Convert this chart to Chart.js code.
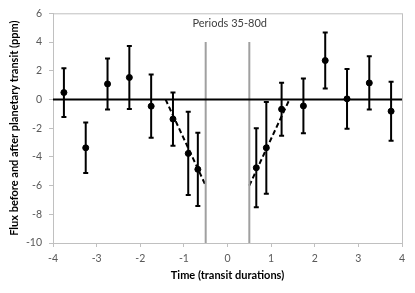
<!DOCTYPE html>
<html>
<head>
<meta charset="utf-8">
<script src="https://cdn.jsdelivr.net/npm/chart.js@4"></script>
<style>
  html, body { margin: 0; padding: 0; background: #fff; }
  #wrap { width: 415px; height: 293px; }
</style>
</head>
<body>
<div id="wrap"><canvas id="chart" width="415" height="293"></canvas></div>
<script>
/* ---------- Dados ---------- */
const xVals = [-3.75, -3.25, -2.75, -2.25, -1.75, -1.25, -0.9, -0.68, 0.66, 0.89, 1.24, 1.74, 2.24, 2.74, 3.25, 3.75];
const fluxVals = [0.48, -3.37, 1.08, 1.53, -0.47, -1.37, -3.76, -4.87, -4.76, -3.37, -0.68, -0.45, 2.71, 0.04, 1.15, -0.82];
const errVals = [1.7, 1.76, 1.78, 2.2, 2.2, 1.85, 2.9, 2.55, 2.75, 3.2, 1.85, 1.9, 1.95, 2.08, 1.85, 2.05];

const ingressX = [-1.42, -0.5];
const ingressY = [0, -6];
const egressX = [0.5, 1.42];
const egressY = [-6, 0];

const transitEdges = [-0.5, 0.5];
const edgeTop = 4;

const xTicks = [-4, -3, -2, -1, 0, 1, 2, 3, 4];
const yTicks = [-10, -8, -6, -4, -2, 0, 2, 4, 6];

const chartTitle = 'Periods 35-80d';
const xTitle = 'Time (transit durations)';
const yTitle = 'Flux before and after planetary transit (ppm)';

const FONT = 'Lato';

function pts(xs, ys) {
    return xs.map((x, i) => ({ x: x, y: ys[i] }));
}

/* ---------- Plugins ---------- */
// barras de erro (usando as escalas do próprio chart)
const errorBars = {
    id: 'errorBars',
    afterDatasetsDraw(chart) {
        const ctx = chart.ctx;
        const xs = chart.scales.x, ys = chart.scales.y;
        ctx.save();
        ctx.strokeStyle = '#000';
        ctx.lineWidth = 2;
        xVals.forEach((x, i) => {
            const px = xs.getPixelForValue(x);
            const top = ys.getPixelForValue(fluxVals[i] + errVals[i]);
            const bot = ys.getPixelForValue(fluxVals[i] - errVals[i]);
            ctx.beginPath();
            ctx.moveTo(px, top); ctx.lineTo(px, bot);
            ctx.moveTo(px - 2.5, top); ctx.lineTo(px + 2.5, top);
            ctx.moveTo(px - 2.5, bot); ctx.lineTo(px + 2.5, bot);
            ctx.stroke();
        });
        ctx.restore();
    }
};

// moldura da área do gráfico + título interno
const frame = {
    id: 'frame',
    beforeDatasetsDraw(chart) {
        const { ctx, chartArea: a } = chart;
        ctx.save();
        ctx.strokeStyle = '#c0c0c0';
        ctx.lineWidth = 1;
        ctx.strokeRect(a.left + 0.5, a.top + 0.5, a.right - a.left, a.bottom - a.top);
        ctx.restore();
    },
    afterDraw(chart) {
        const { ctx, chartArea: a } = chart;
        ctx.save();
        ctx.fillStyle = '#404040';
        ctx.font = '11px ' + FONT;
        ctx.textAlign = 'center';
        ctx.textBaseline = 'middle';
        ctx.fillText(chartTitle, chart.scales.x.getPixelForValue(0.05), a.top + 10);
        ctx.restore();
    }
};

/* ---------- Chart ---------- */
const ctx = document.getElementById('chart').getContext('2d');
new Chart(ctx, {
    type: 'scatter',
    data: {
        datasets: [
            {
                label: 'zero', type: 'line', data: pts([-4, 4], [0, 0]),
                borderColor: '#000', borderWidth: 2, pointRadius: 0
            },
            {
                label: 'edgeL', type: 'line', data: pts([transitEdges[0], transitEdges[0]], [-10, edgeTop]),
                borderColor: '#a0a0a0', borderWidth: 2, pointRadius: 0
            },
            {
                label: 'edgeR', type: 'line', data: pts([transitEdges[1], transitEdges[1]], [-10, edgeTop]),
                borderColor: '#a0a0a0', borderWidth: 2, pointRadius: 0
            },
            {
                label: 'ingress', type: 'line', data: pts(ingressX, ingressY),
                borderColor: '#000', borderWidth: 2, borderDash: [5, 3], pointRadius: 0
            },
            {
                label: 'egress', type: 'line', data: pts(egressX, egressY),
                borderColor: '#000', borderWidth: 2, borderDash: [5, 3], pointRadius: 0
            },
            {
                label: 'flux', data: pts(xVals, fluxVals),
                backgroundColor: '#000', borderColor: '#000', pointRadius: 3, pointHoverRadius: 3
            }
        ]
    },
    options: {
        responsive: false,
        animation: false,
        events: [],
        layout: { padding: { top: 13, right: 13, left: 0, bottom: 0 } },
        plugins: { legend: { display: false }, tooltip: { enabled: false } },
        scales: {
            x: {
                type: 'linear', min: -4, max: 4,
                afterBuildTicks: s => { s.ticks = xTicks.map(v => ({ value: v })); },
                afterFit: s => { s.height = 50; },
                border: { color: '#c0c0c0', width: 1 },
                grid: { drawOnChartArea: false, color: '#c0c0c0', tickLength: 4 },
                ticks: { color: '#595959', font: { family: FONT, size: 10.5 }, padding: 5, maxRotation: 0 },
                title: {
                    display: true, text: xTitle, color: '#000',
                    font: { family: FONT, size: 11, weight: 'bold' },
                    padding: { top: 0, bottom: 11 }
                }
            },
            y: {
                type: 'linear', min: -10, max: 6,
                afterBuildTicks: s => { s.ticks = yTicks.map(v => ({ value: v })); },
                afterFit: s => { s.width = 53; },
                border: { color: '#c0c0c0', width: 1 },
                grid: { drawOnChartArea: false, color: '#c0c0c0', tickLength: 4 },
                ticks: { color: '#595959', font: { family: FONT, size: 10.5 }, padding: 7 },
                title: {
                    display: true, text: yTitle, color: '#000',
                    font: { family: FONT, size: 11, weight: 'bold' },
                    padding: { top: 8, bottom: 0 }
                }
            }
        }
    },
    plugins: [frame, errorBars]
});
</script>
</body>
</html>
